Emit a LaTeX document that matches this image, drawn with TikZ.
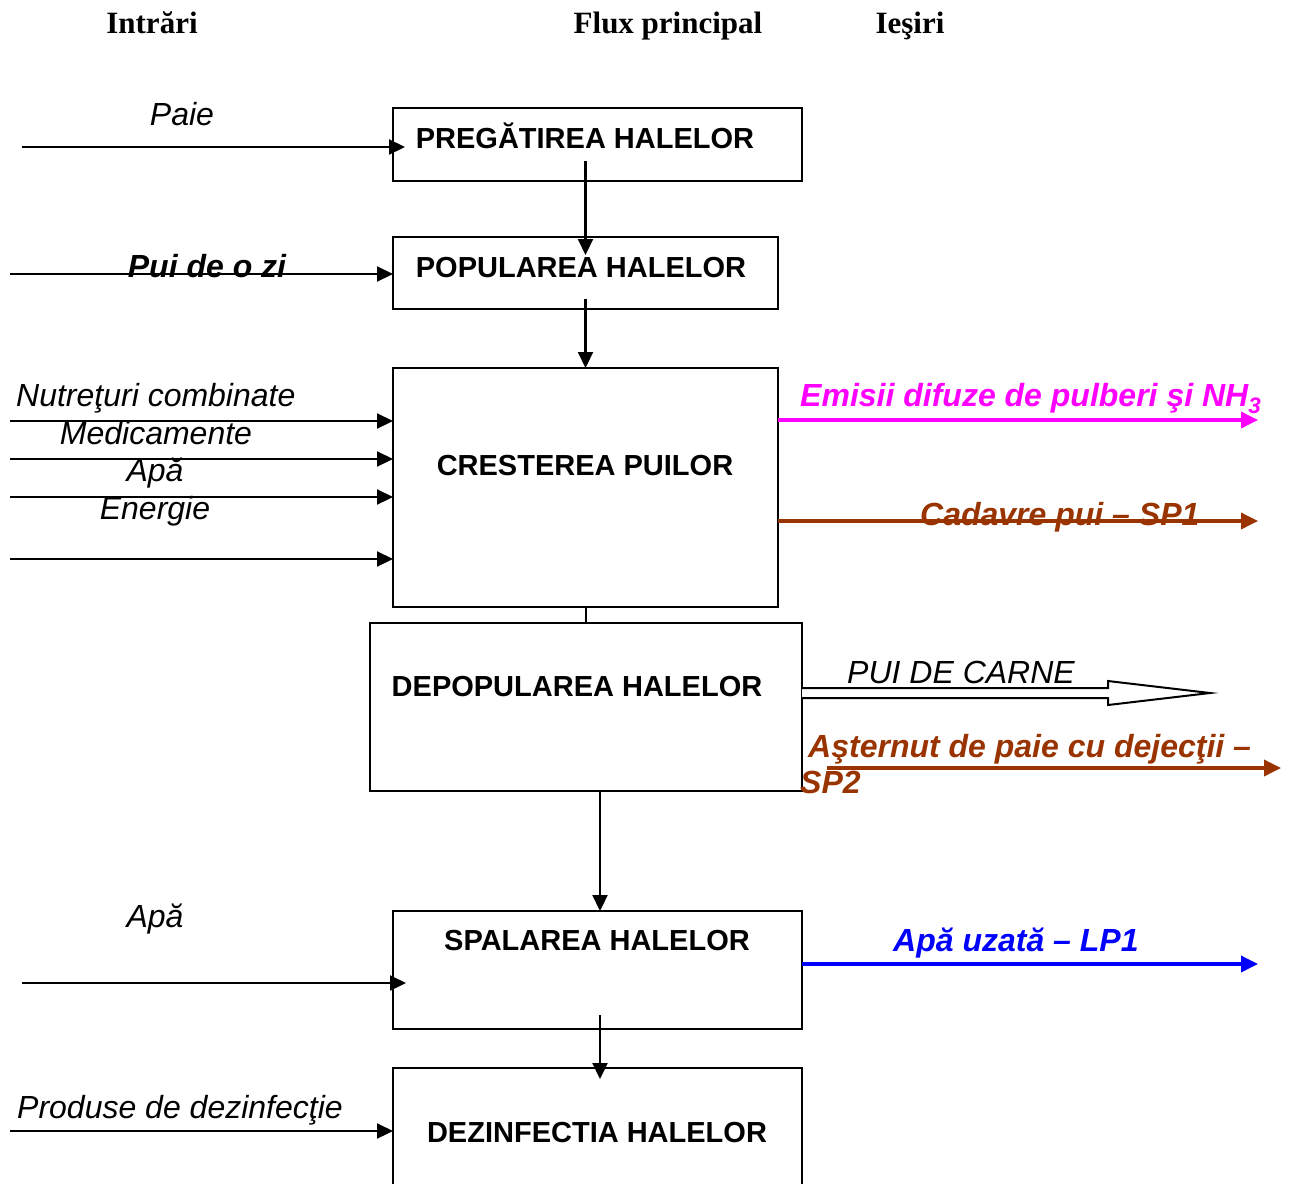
\documentclass[tikz,border=0pt]{standalone}
\usepackage{fontspec}
\setmainfont{Liberation Serif}
\newfontfamily\arial{Liberation Sans}
\usetikzlibrary{arrows.meta,calc}
\definecolor{brn}{HTML}{993300}
\definecolor{mag}{HTML}{FF00FF}
\definecolor{blu}{HTML}{0000FF}
\tikzset{
 box/.style={draw, line width=2pt, rectangle, inner sep=0pt, outer sep=0pt},
 boxtext/.style={font=\arial\bfseries\fontsize{29}{34}\selectfont, anchor=base, inner sep=0pt},
 lbl/.style={font=\arial\itshape\fontsize{32}{36}\selectfont, anchor=base, inner sep=0pt},
 lblw/.style={font=\arial\itshape\fontsize{32}{36}\selectfont, anchor=base west, inner sep=0pt},
 clbl/.style={font=\arial\bfseries\itshape\fontsize{32}{36}\selectfont, anchor=base west, inner sep=0pt},
 hdr/.style={font=\bfseries\fontsize{31}{36}\selectfont, anchor=base, inner sep=0pt},
 arr/.style={line width=2.2pt, -{Triangle[length=16pt,width=15pt]}},
 carr/.style={line width=3.5pt, -{Triangle[length=17pt,width=16pt]}},
}
\begin{document}
\begin{tikzpicture}[x=1pt,y=-1pt]
\useasboundingbox (0,0) rectangle (1292,1183);
\clip (0,0) rectangle (1292,1183);
\fill[white] (0,0) rectangle (1292,1183);

% headers
\node[hdr] (h1) at (152,33) {Intrări};
\node[hdr] (h2) at (668,33) {Flux principal};
\node[hdr] (h3) at (910,33) {Ieşiri};

% boxes
\node[box, minimum width=409pt, minimum height=73pt] (preg) at (597.5,144.5) {};
\node[box, minimum width=385pt, minimum height=72pt] (pop) at (585.5,273) {};
\node[box, minimum width=385pt, minimum height=239pt] (crest) at (585.5,487.5) {};
\node[box, minimum width=432pt, minimum height=168pt] (depop) at (586,707) {};
\node[box, minimum width=409pt, minimum height=118pt] (spal) at (597.5,970) {};
\node[box, minimum width=409pt, minimum height=140pt] (dez) at (597.5,1138) {};

% box texts
\node[boxtext] (tpreg) at (585,148) {PREGĂTIREA HALELOR};
\node[boxtext] (tpop) at (581,277) {POPULAREA HALELOR};
\node[boxtext] (tcrest) at (585,475) {CRESTEREA PUILOR};
\node[boxtext] (tdepop) at (577,696) {DEPOPULAREA HALELOR};
\node[boxtext] (tspal) at (597,950) {SPALAREA HALELOR};
\node[boxtext] (tdez) at (597,1142) {DEZINFECTIA HALELOR};

% input labels
\node[lbl] (lpaie) at (182,125) {Paie};
\node[font=\arial\bfseries\itshape\fontsize{32}{36}\selectfont, anchor=base, inner sep=0pt] (lpui) at (207,277) {Pui de o zi};
\node[lblw] (lnut) at (16,406) {Nutreţuri combinate};
\node[lbl] (lmed) at (156,444) {Medicamente};
\node[lbl] (lapa) at (155,481) {Apă};
\node[lbl] (lene) at (155,519) {Energie};
\node[lbl] (lapa2) at (155,927) {Apă};
\node[lblw] (lprod) at (17,1118) {Produse de dezinfecţie};

% output labels
\node[clbl, mag] (lem) at (800,406) {Emisii difuze de pulberi şi NH\textsubscript{3}};
\node[clbl, brn] (lcad) at (920,525) {Cadavre pui – SP1};
\node[lblw] (lpdc) at (847,683) {PUI DE CARNE};
\node[clbl, brn] (last) at (808,757) {Aşternut de paie cu dejecţii –};
\node[clbl, brn] (lsp2) at (800,793) {SP2};
\node[clbl, blu] (lapu) at (893,951) {Apă uzată – LP1};

% main flow connectors
\draw[arr] ($(pop.north |- preg.south)+(0,-20)$) -- ($(pop.north)+(0,18)$);
\draw[arr] ($(pop.south)+(0,-10)$) -- (crest.north);
\draw[line width=2pt] (crest.south) -- (crest.south |- depop.north);
\draw[arr] ($(spal.north |- depop.south)+(2.5,0)$) -- ($(spal.north)+(2.5,0)$);
\draw[arr] ($(spal.south)+(2.5,-14)$) -- ($(dez.north)+(2.5,11)$);

% inputs
\coordinate (iPaie) at (22,147);
\coordinate (iPui) at (10,274);
\coordinate (iNut) at (10,421);
\coordinate (iMed) at (10,459);
\coordinate (iApa) at (10,497);
\coordinate (iEne) at (10,559);
\coordinate (iApa2) at (22,983);
\coordinate (iProd) at (10,1131);
\draw[arr] (iPaie) -- ($(preg.west |- iPaie)+(12,0)$);
\draw[arr] (iPui) -- (pop.west |- iPui);
\draw[arr] (iNut) -- (crest.west |- iNut);
\draw[arr] (iMed) -- (crest.west |- iMed);
\draw[arr] (iApa) -- (crest.west |- iApa);
\draw[arr] (iEne) -- (crest.west |- iEne);
\draw[arr] (iApa2) -- ($(spal.west |- iApa2)+(13,0)$);
\draw[arr] (iProd) -- (dez.west |- iProd);

% outputs
\coordinate (oEm) at (1258,420);
\coordinate (oCad) at (1258,521);
\coordinate (oPdc) at (1210,693);
\coordinate (oAstS) at (827,768);
\coordinate (oAstE) at (1281,768);
\coordinate (oApu) at (1258,964);
\draw[carr, mag] (crest.east |- oEm) -- (oEm);
\draw[carr, brn] (crest.east |- oCad) -- (oCad);
\draw[carr, brn] (oAstS) -- (oAstE);
\draw[carr, blu] (spal.east |- oApu) -- (oApu);
\draw[line width=2pt, line join=miter, fill=white]
  (depop.east |- 0,688) -- (1108,688) -- (1108,681) -- (oPdc) -- (1108,705) -- (1108,698) -- (depop.east |- 0,698);
\end{tikzpicture}
\end{document}
